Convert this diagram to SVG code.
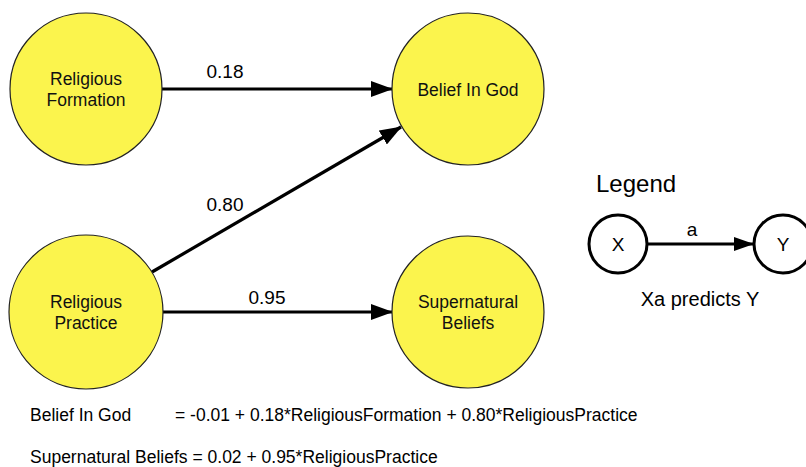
<svg xmlns="http://www.w3.org/2000/svg" width="806" height="467" viewBox="0 0 806 467">
<style>
.node{fill:#fbf44d;stroke:#222;stroke-width:1.2}
.lnode{fill:#fff;stroke:#000;stroke-width:3}
.t{font-family:"Liberation Sans",Arial,sans-serif;font-size:17.5px;fill:#111;text-anchor:middle}
.lab{font-family:"Liberation Sans",Arial,sans-serif;font-size:19px;fill:#000}
.eq{font-family:"Liberation Sans",Arial,sans-serif;font-size:17.5px;fill:#000}
.edge{stroke:#000;stroke-width:3.2;fill:none}
</style>
<defs>
<marker id="ah" markerWidth="22" markerHeight="16" refX="21" refY="8" orient="auto" markerUnits="userSpaceOnUse" viewBox="0 0 22 16">
<path d="M0,0 L22,8 L0,16 z" fill="#000"/>
</marker>
<marker id="ahs" markerWidth="20" markerHeight="14" refX="19" refY="7" orient="auto" markerUnits="userSpaceOnUse" viewBox="0 0 20 14">
<path d="M0,0 L20,7 L0,14 z" fill="#000"/>
</marker>
</defs>
<g id="connectors">
<line class="edge" x1="162" y1="89" x2="392" y2="89" marker-end="url(#ah)"/>
<line class="edge" x1="152" y1="272" x2="401" y2="127" marker-end="url(#ah)"/>
<line class="edge" x1="163" y1="312" x2="392" y2="312" marker-end="url(#ah)"/>
<text class="lab" x="225" y="78" text-anchor="middle">0.18</text>
<text class="lab" x="225" y="211" text-anchor="middle">0.80</text>
<text class="lab" x="267" y="304" text-anchor="middle">0.95</text>
</g>
<g id="religious-formation">
<circle class="node" cx="86" cy="89" r="76"/>
<text class="t" x="86" y="85">Religious</text>
<text class="t" x="86" y="106">Formation</text>
</g>
<g id="belief-in-god">
<circle class="node" cx="468" cy="89" r="76"/>
<text class="t" x="468" y="96">Belief In God</text>
</g>
<g id="religious-practice">
<circle class="node" cx="86" cy="312" r="77"/>
<text class="t" x="86" y="308">Religious</text>
<text class="t" x="86" y="329">Practice</text>
</g>
<g id="supernatural-beliefs">
<circle class="node" cx="468" cy="312" r="76"/>
<text class="t" x="468" y="308">Supernatural</text>
<text class="t" x="468" y="329">Beliefs</text>
</g>
<g id="legend">
<text class="lab" x="596" y="192" style="font-size:24px">Legend</text>
<circle class="lnode" cx="618" cy="244" r="29"/>
<text class="lab" x="618" y="251" text-anchor="middle">X</text>
<circle class="lnode" cx="783" cy="244" r="29"/>
<text class="lab" x="783" y="251" text-anchor="middle">Y</text>
<line x1="648" y1="244" x2="753" y2="244" stroke="#000" stroke-width="3" marker-end="url(#ahs)"/>
<text class="lab" x="692" y="236" text-anchor="middle">a</text>
<text class="lab" x="700" y="306" text-anchor="middle" style="font-size:20px">Xa predicts Y</text>
</g>
<g id="equations">
<text class="eq" x="30" y="421">Belief In God</text>
<text class="eq" x="175" y="421">= -0.01 + 0.18*ReligiousFormation + 0.80*ReligiousPractice</text>
<text class="eq" x="30" y="463">Supernatural Beliefs = 0.02 + 0.95*ReligiousPractice</text>
</g>
</svg>
